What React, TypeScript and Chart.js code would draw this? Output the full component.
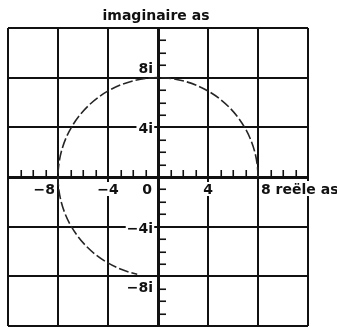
import React, { useEffect, useRef } from 'react';
import { Chart, registerables } from 'chart.js';

Chart.register(...registerables);

// Complex plane: both axes run from -12 to 12, major grid every 4 units
const axisMin = -12;
const axisMax = 12;
const gridStep = 4;
const minorStep = 1;

// Real axis labels and the values they sit at
const realLabelValues = [-8, -4, 0, 4, 8];
const realLabels = ['−8', '−4', '0', '4', '8 reële as'];

// Imaginary axis labels and the values they sit at
const imagLabelValues = [8, 4, -4, -8];
const imagLabels = ['8i', '4i', '−4i', '−8i'];

const imagAxisTitle = 'imaginaire as';

// Circle |z| = 8, drawn as an arc from 0° counter-clockwise to 258°
const circleCentre = [0, 0];
const circleRadius = 8;
const arcFromDeg = 0;
const arcToDeg = 258;

const INK = '#111111';
const FONT = 'bold 14px "DejaVu Sans"';

// How each label is anchored relative to its grid line
const realLabelAnchor = ['leftOf', 'centre', 'leftOf', 'centre', 'rightOf'];
const imagLabelAnchor = ['above', 'centre', 'centre', 'below'];

function drawText(
  ctx: CanvasRenderingContext2D,
  text: string,
  x: number,
  y: number,
  align: CanvasTextAlign,
  baseline: CanvasTextBaseline,
  knockout: boolean
) {
  ctx.font = FONT;
  ctx.textAlign = align;
  ctx.textBaseline = baseline;
  if (knockout) {
    const m = ctx.measureText(text);
    const left = x - m.actualBoundingBoxLeft - 2;
    const top = y - m.actualBoundingBoxAscent - 2;
    const w = m.actualBoundingBoxLeft + m.actualBoundingBoxRight + 4;
    const h = m.actualBoundingBoxAscent + m.actualBoundingBoxDescent + 4;
    ctx.fillStyle = '#ffffff';
    ctx.fillRect(left, top, w, h);
  }
  ctx.fillStyle = INK;
  ctx.fillText(text, x, y);
}

const complexPlanePlugin = {
  id: 'complexPlane',
  afterDraw(chart: any) {
    const { ctx, chartArea } = chart;
    const xs = chart.scales.x;
    const ys = chart.scales.y;
    const x0 = xs.getPixelForValue(0);
    const y0 = ys.getPixelForValue(0);

    ctx.save();

    // minor ticks: above the real axis, right of the imaginary axis
    ctx.strokeStyle = INK;
    ctx.lineWidth = 1.6;
    for (let v = axisMin + minorStep; v < axisMax; v += minorStep) {
      if (v % gridStep === 0) continue;
      const px = Math.round(xs.getPixelForValue(v)) + 0.25;
      ctx.beginPath();
      ctx.moveTo(px, y0);
      ctx.lineTo(px, y0 - 7);
      ctx.stroke();
      const py = Math.round(ys.getPixelForValue(v)) + 0.25;
      ctx.beginPath();
      ctx.moveTo(x0, py);
      ctx.lineTo(x0 + 8, py);
      ctx.stroke();
    }

    // the circle arc
    const cx = xs.getPixelForValue(circleCentre[0]);
    const cy = ys.getPixelForValue(circleCentre[1]);
    const rx = xs.getPixelForValue(circleCentre[0] + circleRadius) - cx;
    const ry = cy - ys.getPixelForValue(circleCentre[1] + circleRadius);
    ctx.strokeStyle = '#262626';
    ctx.lineWidth = 1.6;
    ctx.setLineDash([10, 3]);
    ctx.beginPath();
    ctx.ellipse(cx, cy, rx, ry, 0, (-arcFromDeg * Math.PI) / 180, (-arcToDeg * Math.PI) / 180, true);
    ctx.stroke();
    ctx.setLineDash([]);

    // real axis labels
    realLabels.forEach((text, i) => {
      const px = xs.getPixelForValue(realLabelValues[i]);
      const base = y0 + 17;
      const anchor = realLabelAnchor[i];
      if (anchor === 'leftOf') {
        const gap = realLabelValues[i] === 0 ? 6 : 3;
        drawText(ctx, text, px - gap, base, 'right', 'alphabetic', false);
      } else if (anchor === 'centre') {
        drawText(ctx, text, px, base, 'center', 'alphabetic', true);
      } else {
        drawText(ctx, text, px + 3, base, 'left', 'alphabetic', true);
      }
    });

    // imaginary axis labels
    imagLabels.forEach((text, i) => {
      const py = ys.getPixelForValue(imagLabelValues[i]);
      const anchor = imagLabelAnchor[i];
      const right = x0 - 5;
      if (anchor === 'above') {
        drawText(ctx, text, right, py - 5, 'right', 'alphabetic', false);
      } else if (anchor === 'centre') {
        drawText(ctx, text, right, py + 6, 'right', 'alphabetic', true);
      } else {
        drawText(ctx, text, right, py + 16, 'right', 'alphabetic', false);
      }
    });

    // imaginary axis title above the frame
    drawText(ctx, imagAxisTitle, x0 - 2, chartArea.top - 8, 'center', 'alphabetic', false);

    ctx.restore();
  },
};

function axisOptions() {
  return {
    type: 'linear' as const,
    min: axisMin,
    max: axisMax,
    ticks: { display: false, stepSize: gridStep },
    grid: {
      color: INK,
      lineWidth: (c: any) => (c.tick && c.tick.value === 0 ? 3 : 2),
      drawTicks: false,
    },
    border: { display: false },
  };
}

export default function App() {
  const canvasRef = useRef<HTMLCanvasElement | null>(null);

  useEffect(() => {
    const canvas = canvasRef.current;
    if (!canvas) return;
    const chart = new Chart(canvas, {
      type: 'scatter',
      data: { datasets: [{ data: [] }] },
      options: {
        responsive: false,
        animation: false,
        devicePixelRatio: 1,
        layout: { padding: { left: 8, right: 29, top: 28, bottom: 1 } },
        plugins: {
          legend: { display: false },
          tooltip: { enabled: false },
          title: { display: false },
        },
        scales: {
          x: axisOptions(),
          y: axisOptions(),
        },
      },
      plugins: [complexPlanePlugin],
    });
    return () => chart.destroy();
  }, []);

  return (
    <div
      style={{
        position: 'fixed',
        left: 0,
        top: 0,
        width: 337,
        height: 327,
        background: '#ffffff',
      }}
    >
      <canvas ref={canvasRef} width={337} height={327} style={{ display: 'block' }} />
    </div>
  );
}
